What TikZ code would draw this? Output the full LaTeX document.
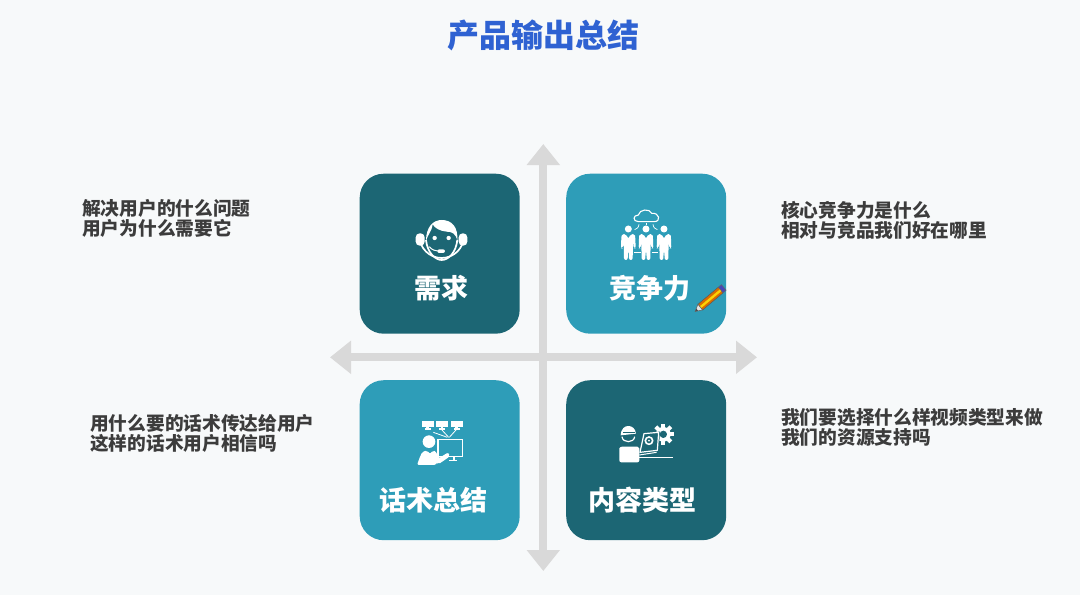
\documentclass[tikz,border=0pt]{standalone}
\usepackage{fontspec}
\setmainfont{Noto Sans CJK SC}
\usetikzlibrary{arrows.meta}
\definecolor{bgc}{HTML}{F7F9FA}
\definecolor{darkteal}{HTML}{1C6674}
\definecolor{lightteal}{HTML}{2E9DB8}
\definecolor{crossc}{HTML}{D9D9D9}
\definecolor{titlec}{HTML}{2F62D2}
\definecolor{sidec}{HTML}{3C3C3C}
\tikzset{
  card/.style={rounded corners=24pt,minimum width=160pt,minimum height=160pt,inner sep=0pt,draw=none,anchor=north west},
  cardtext/.style={text=white,font=\fontsize{27}{30}\selectfont\bfseries,inner sep=0pt},
  sidetext/.style={text=sidec,font=\fontsize{18.7}{20}\selectfont\bfseries,align=left,anchor=west,inner sep=0pt},
  axis/.style={crossc,line width=8pt,{Triangle[length=21pt,width=32pt]}-{Triangle[length=21pt,width=32pt]}},
  ic/.style={fill=white,draw=none},
  il/.style={draw=white,line width=1.1pt,fill=none},
}
\begin{document}
\begin{tikzpicture}[x=1pt,y=-1pt]
\useasboundingbox (0,0) rectangle (1080,595);
\fill[bgc] (0,0) rectangle (1080,595);
% axes
\coordinate (vtop) at (543.3,144);
\coordinate (vbot) at (543.3,571);
\coordinate (hleft) at (330,357.3);
\coordinate (hright) at (757,357.3);
\draw[axis] (hleft) -- (hright);
\draw[axis] (vtop) -- (vbot);
% cards
\node[card,fill=darkteal] (need) at (359.5,173.5) {};
\node[card,fill=lightteal] (comp) at (566,173.5) {};
\node[card,fill=lightteal] (talk) at (359.5,380) {};
\node[card,fill=darkteal] (cont) at (566,380) {};
% labels
\node[cardtext] (needl) at (441,288) {需求};
\node[cardtext] (compl) at (650,288) {竞争力};
\node[cardtext] (talkl) at (433.5,500) {话术总结};
\node[cardtext] (contl) at (642.5,500) {内容类型};
\node[text=titlec,font=\fontsize{32}{36}\selectfont\bfseries,inner sep=0pt] (title) at (543,35) {产品输出总结};
\node[sidetext] (s1) at (82,218) {解决用户的什么问题\\用户为什么需要它};
\node[sidetext] (s2) at (781,220) {核心竞争力是什么\\相对与竞品我们好在哪里};
\node[sidetext] (s3) at (90,433) {用什么要的话术传达给用户\\这样的话术用户相信吗};
\node[sidetext] (s4) at (781,427) {我们要选择什么样视频类型来做\\我们的资源支持吗};
% headset icon
\begin{scope}[shift={(350,165)},x=0.3333pt,y=-0.3333pt]
  \draw[draw=white,line width=1.7pt] (208,212) arc[start angle=180,end angle=0,radius=67];
  \fill[white,rounded corners=4pt] (197,205) rectangle (224,242);
  \fill[white,rounded corners=4pt] (326,205) rectangle (352,242);
  \draw[draw=white,line width=1.7pt] (228,225) .. controls (232,262) and (255,285) .. (275,285) .. controls (296,285) and (318,262) .. (322,225);
  \fill[white] (228,228) .. controls (228,185) and (250,165) .. (275,165) .. controls (305,165) and (325,185) .. (322,228) .. controls (318,205) and (305,200) .. (290,200) .. controls (270,198) and (255,190) .. (248,178) .. controls (245,200) and (235,205) .. (228,228) -- cycle;
  \fill[white] (254,219) circle[radius=6.5];
  \fill[white] (296,219) circle[radius=6.5];
  \draw[white,line width=1pt] (238,245) .. controls (245,255) and (255,258) .. (272,258);
  \fill[white,rounded corners=2pt] (262,253) rectangle (285,264);
\end{scope}
% team icon
\begin{scope}[shift={(560,165)},x=0.3333pt,y=-0.3333pt]
  \draw[il] (235,170) .. controls (218,170) and (218,150) .. (235,150) .. controls (238,132) and (270,130) .. (275,145) .. controls (298,142) and (305,170) .. (282,170) -- cycle;
  \draw[white,line width=0.7pt] (237,178) .. controls (236,188) and (230,192) .. (224,194);
  \draw[white,line width=0.7pt] (258,174) -- (258,180);
  \draw[white,line width=0.7pt] (279,178) .. controls (280,188) and (286,192) .. (292,194);
  \foreach \cx in {205,258,312}{
    \fill[white] (\cx,192) circle[radius=10.5];
    \fill[white,rounded corners=2pt] (\cx-22,250) -- (\cx-21,218) .. controls (\cx-20,210) and (\cx-12,207) .. (\cx-7,207) -- (\cx,222) -- (\cx+7,207) .. controls (\cx+12,207) and (\cx+20,210) .. (\cx+21,218) -- (\cx+22,250) -- (\cx+16,250) -- (\cx+14,228) -- (\cx+13,285) -- (\cx+2,285) -- (\cx+1,258) -- (\cx-1,258) -- (\cx-2,285) -- (\cx-13,285) -- (\cx-14,228) -- (\cx-16,250) -- cycle;
  }
  \draw[white,line width=0.7pt] (222,262) -- (243,262);
  \draw[white,line width=0.7pt] (275,262) -- (295,262);
  % pencil
  \begin{scope}[shift={(450,402)},rotate=40]
    \fill[orange!85!black,draw=black!65,line width=0.5pt] (-38,-11) -- (42,-11) -- (42,11) -- (-38,11) -- cycle;
    \fill[yellow!70!orange] (-38,-3) rectangle (42,4);
    \fill[black!10,draw=black!65,line width=0.5pt] (-38,-11) -- (-58,0) -- (-38,11) -- cycle;
    \fill[black!70] (-58,0) -- (-50,-4.5) -- (-50,4.5) -- cycle;
    \fill[blue!45!gray,draw=black!60,line width=0.5pt] (42,-11) rectangle (54,11);
  \end{scope}
\end{scope}
% presenter icon
\begin{scope}[shift={(350,375)},x=0.3333pt,y=-0.3333pt]
  \foreach \mx in {233,276,320}{
    \fill[white] (\mx-18,138) rectangle (\mx+18,156);
    \fill[white] (\mx-4,156) rectangle (\mx+4,160);
    \fill[white] (\mx-9,160) rectangle (\mx+9,164);
  }
  \draw[white,line width=0.8pt] (250,172) -- (292,187);
  \draw[white,line width=0.8pt] (276,165) -- (296,187);
  \draw[white,line width=0.8pt] (318,165) -- (298,187);
  \fill[white] (237,200) circle[radius=19];
  \draw[white,line width=1.2pt] (264,194) rectangle (337,244);
  \draw[white,line width=1.2pt] (298,256) -- (322,256);
  \draw[white,line width=1.2pt] (312,244) -- (312,256);
  \fill[white,rounded corners=2pt] (201,270) -- (212,240) .. controls (218,230) and (225,228) .. (232,226) -- (240,238) -- (248,226) .. controls (255,228) and (262,235) .. (266,250) -- (295,232) -- (300,244) -- (265,268) -- (258,262) -- (258,270) -- cycle;
\end{scope}
% engineer icon
\begin{scope}[shift={(560,375)},x=0.3333pt,y=-0.3333pt]
  % gear
  \fill[white] (310,178) circle[radius=22];
  \foreach \a in {0,45,...,315}{
    \fill[white,rotate around={\a:(310,178)}] (304,146) rectangle (316,160);
  }
  \fill[darkteal] (310,178) circle[radius=11];
  % laptop
  \fill[darkteal] (252,172) -- (300,170) -- (296,232) -- (240,246) -- cycle;
  \draw[white,line width=1.2pt,line join=round] (252,176) -- (296,172) -- (292,226) -- (240,232) -- cycle;
  \draw[white,line width=1.6pt] (267,197) circle[radius=11];
  \fill[white] (267,197) circle[radius=3];
  \draw[white,line width=1pt] (238,240) -- (290,232);
  \draw[white,line width=1.2pt] (238,248) -- (340,248);
  % worker
  \fill[white,rounded corners=2pt] (178,262) -- (178,226) .. controls (178,218) and (184,215) .. (192,215) -- (226,215) .. controls (233,215) and (238,220) .. (238,226) -- (238,262) -- cycle;
  \draw[white,line width=1.2pt] (186,185) .. controls (188,205) and (222,205) .. (224,185);
  \fill[white] (182,181) .. controls (183,160) and (195,153) .. (205,153) .. controls (216,153) and (226,160) .. (228,176) -- cycle;
  \fill[darkteal] (190,170) rectangle (224,174);
\end{scope}
\end{tikzpicture}
\end{document}
